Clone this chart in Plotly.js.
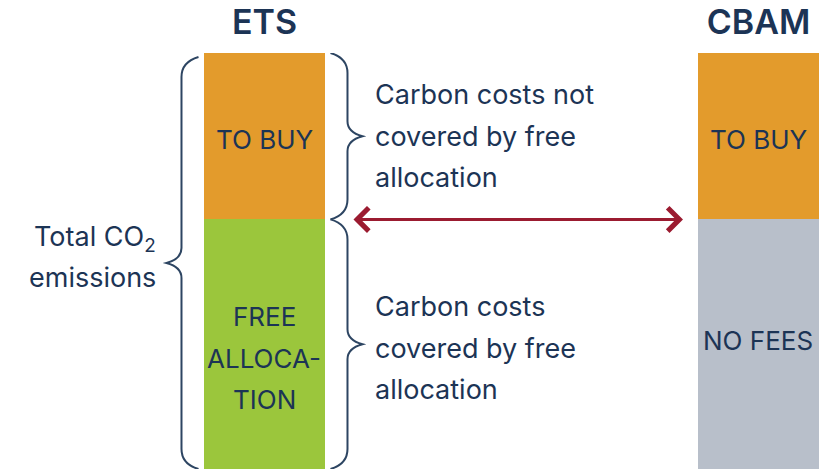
<!DOCTYPE html>
<html><head><meta charset="utf-8">
<script src="https://cdn.plot.ly/plotly-3.0.1.min.js"></script>
<style>html,body{margin:0;padding:0;background:#fff}</style>
</head><body>
<div id="chart" style="width:823px;height:469px"></div>
<script>
// ---- data ----
const categories = ["ETS", "CBAM"];
const lowerValues = [60, 60];
const upperValues = [40, 40];
const lowerLabels = [["FREE", "ALLOCA-", "TION"], ["NO FEES"]];
const upperLabels = [["TO BUY"], ["TO BUY"]];
const upperNote = ["Carbon costs not", "covered by free", "allocation"];
const lowerNote = ["Carbon costs", "covered by free", "allocation"];
const totalNote = ["Total CO<sub>2</sub>", "emissions"];

// ---- styling / layout ----
const W = 823, H = 469, T = 53;
const xr = [-0.5354, 1.1306];
const yr = [0, 100];
const xs = W / (xr[1] - xr[0]);
const ys = (H - T) / (yr[1] - yr[0]);
const dx = p => p / xs;
const dy = p => p / ys;
const barW = dx(121);

const navy = '#1c3455';
const FONT = 'Inter, "Open Sans", sans-serif';
const lowerColors = ['#9bc63c', '#b8bfca'];
const upperColor = '#e39b2c';

const traces = [
  {type: 'bar', x: categories, y: lowerValues, width: barW,
   marker: {color: lowerColors}, hoverinfo: 'skip', showlegend: false},
  {type: 'bar', x: categories, y: upperValues, width: barW,
   marker: {color: upperColor}, hoverinfo: 'skip', showlegend: false}
];

function brace(xc, dir, yTop, yBot) {
  const e = xc + dir * dx(66), m = xc + dir * dx(83), t = xc + dir * dx(98);
  const ym = (yTop + yBot) / 2;
  const c = dy(20), k = dy(15), q = dy(4);
  return {
    type: 'path', xref: 'x', yref: 'y',
    path: `M${e},${yTop} Q${m},${yTop - c * 0.25} ${m},${yTop - c} L${m},${ym + k} ` +
          `Q${m},${ym + q} ${t},${ym} Q${m},${ym - q} ${m},${ym - k} ` +
          `L${m},${yBot + c} Q${m},${yBot + c * 0.25} ${e},${yBot}`,
    line: {color: '#2d4562', width: 2}
  };
}

const total0 = lowerValues[0] + upperValues[0];
const shapes = [
  brace(0, -1, total0 - dy(4), 0),
  brace(0, 1, total0, lowerValues[0]),
  brace(0, 1, lowerValues[0], 0)
];

function lines(arr, x, y, spacing, opts, shift) {
  const n = arr.length;
  return arr.map((t, i) => Object.assign({
    x: x, y: y, xref: 'x', yref: 'y', text: t, showarrow: false,
    yshift: ((n - 1) / 2 - i) * spacing - (shift || 0)
  }, opts));
}

const barFont = {family: FONT, size: 26, color: navy};
const noteFont = {family: FONT, size: 27, color: navy};
let annotations = [];
categories.forEach((c, i) => {
  annotations = annotations.concat(
    lines(upperLabels[i], i, lowerValues[i] + upperValues[i] / 2, 41, {font: barFont}, 3),
    lines(lowerLabels[i], i, lowerValues[i] / 2, 41.5, {font: barFont}, i === 0 ? 14 : -4)
  );
});
annotations = annotations.concat(
  lines(upperNote, dx(373 - 264.5), lowerValues[0] + upperValues[0] / 2, 41.5,
        {font: noteFont, xanchor: 'left', align: 'left'}, 0),
  lines(lowerNote, dx(373 - 264.5), lowerValues[0] / 2, 41.5,
        {font: noteFont, xanchor: 'left', align: 'left'}, 4),
  lines(totalNote, -dx(264.5 - 158), total0 / 2, 39,
        {font: noteFont, xanchor: 'right', align: 'right'}, -3)
);
// double arrow between the two bars at the boundary
annotations.push({
  x: 1 - barW / 2 - dx(15), y: lowerValues[0], xref: 'x', yref: 'y',
  ax: barW / 2 + dx(27), ay: lowerValues[1], axref: 'x', ayref: 'y',
  text: '', showarrow: true, arrowside: 'end+start',
  arrowhead: 4, startarrowhead: 4, arrowsize: 1.5, startarrowsize: 1.5,
  arrowwidth: 3, arrowcolor: '#9b1b30', standoff: 0, startstandoff: 0
});

const layout = {
  width: W, height: H,
  margin: {l: 0, r: 0, t: T, b: 0, pad: 0},
  paper_bgcolor: '#ffffff', plot_bgcolor: '#ffffff',
  barmode: 'stack', bargap: 0,
  showlegend: false,
  xaxis: {type: 'category', range: xr, side: 'top', showgrid: false, zeroline: false,
          showline: false, ticks: '', ticklabelstandoff: 11,
          tickfont: {family: FONT, size: 34, color: navy, weight: 600}, fixedrange: true},
  yaxis: {range: yr, visible: false, fixedrange: true},
  shapes: shapes,
  annotations: annotations
};

Plotly.newPlot('chart', traces, layout, {displayModeBar: false, staticPlot: true});
</script>
</body></html>
